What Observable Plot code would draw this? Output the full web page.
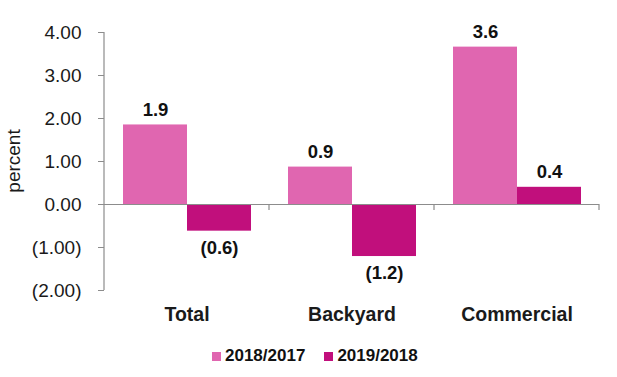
<!DOCTYPE html>
<html><head><meta charset="utf-8">
<script src="https://cdn.jsdelivr.net/npm/d3@7"></script>
<script src="https://cdn.jsdelivr.net/npm/@observablehq/plot@0.6"></script>
<style>
body{margin:0;background:#fff;font-family:Arial,"Liberation Sans",sans-serif;}
#wrap{width:617px;height:377px;overflow:hidden;}
#legend{height:42px;display:flex;align-items:center;padding-left:212px;font-weight:bold;font-size:17px;color:#111;}
.item{display:flex;align-items:center;margin-right:19px;}
.sw{width:9px;height:9px;margin-right:4px;}
</style>
</head><body>
<div id="wrap"><div id="chart"></div><div id="legend"></div></div>
<script>
const categories = ["Total", "Backyard", "Commercial"];
const series = ["2018/2017", "2019/2018"];
const values2018 = [1.85, 0.87, 3.66];
const values2019 = [-0.62, -1.21, 0.40];
const labels2018 = ["1.9", "0.9", "3.6"];
const labels2019 = ["(0.6)", "(1.2)", "0.4"];
const yTicks = [-2, -1, 0, 1, 2, 3, 4];
const colors = ["#E066B0", "#C10F7C"];
const yLabel = "percent";

const data = categories.flatMap((c, i) => [
  {cat: c, series: series[0], value: values2018[i], label: labels2018[i]},
  {cat: c, series: series[1], value: values2019[i], label: labels2019[i]}
]);

const fmt = d => d < 0 ? `(${Math.abs(d).toFixed(2)})` : d.toFixed(2);

const chart = Plot.plot({
  width: 617, height: 335,
  marginLeft: 103, marginRight: 18, marginTop: 32, marginBottom: 45,
  style: {fontFamily: "Arial, 'Liberation Sans', sans-serif", background: "#fff", color: "#1a1a1a"},
  fx: {domain: categories, padding: 0, label: null},
  x: {domain: series, paddingInner: 0, paddingOuter: 0.27, axis: null},
  y: {domain: [-2, 4], label: null},
  color: {domain: series, range: colors},
  marks: [
    Plot.axisY({ticks: yTicks, tickFormat: fmt, tickSize: 6, tickPadding: 17, fontSize: 19, stroke: "#8c8c8c", label: null}),
    Plot.axisFx({anchor: "bottom", tickSize: 0, tickPadding: 17, fontSize: 19.5, fontWeight: "bold", label: null}),
    Plot.barY(data, {fx: "cat", x: "series", y: "value", fill: "series"}),
    Plot.ruleY([0], {stroke: "#8c8c8c", strokeWidth: 1.2}),
    Plot.text(data.filter(d => d.value >= 0), {fx: "cat", x: "series", y: "value", text: "label", dy: -15, fontSize: 18.5, fontWeight: "bold", fill: "#111"}),
    Plot.text(data.filter(d => d.value < 0), {fx: "cat", x: "series", y: "value", text: "label", dy: 17, fontSize: 18.5, fontWeight: "bold", fill: "#111"})
  ]
});

document.getElementById("chart").appendChild(chart);

// axis line and category separator ticks from the plot's own scales
const fxS = chart.scale("fx"), yS = chart.scale("y");
const svg = d3.select(chart);
const x0 = fxS.apply(categories[0]);
svg.append("line").attr("x1", x0).attr("x2", x0)
  .attr("y1", yS.apply(4)).attr("y2", yS.apply(-2))
  .attr("stroke", "#8c8c8c").attr("stroke-width", 1.2);
categories.forEach(c => {
  const xb = fxS.apply(c) + fxS.bandwidth;
  svg.append("line").attr("x1", xb).attr("x2", xb)
    .attr("y1", yS.apply(0)).attr("y2", yS.apply(0) + 6)
    .attr("stroke", "#8c8c8c").attr("stroke-width", 1.2);
});
svg.append("text")
  .attr("transform", `translate(20,${(yS.apply(4) + yS.apply(-2)) / 2}) rotate(-90)`)
  .attr("text-anchor", "middle")
  .attr("font-size", 19)
  .attr("fill", "#1a1a1a")
  .text(yLabel);

const legend = d3.select("#legend");
series.forEach((s, i) => {
  const it = legend.append("div").attr("class", "item");
  it.append("div").attr("class", "sw").style("background", colors[i]);
  it.append("span").text(s);
});
</script>
</body></html>
